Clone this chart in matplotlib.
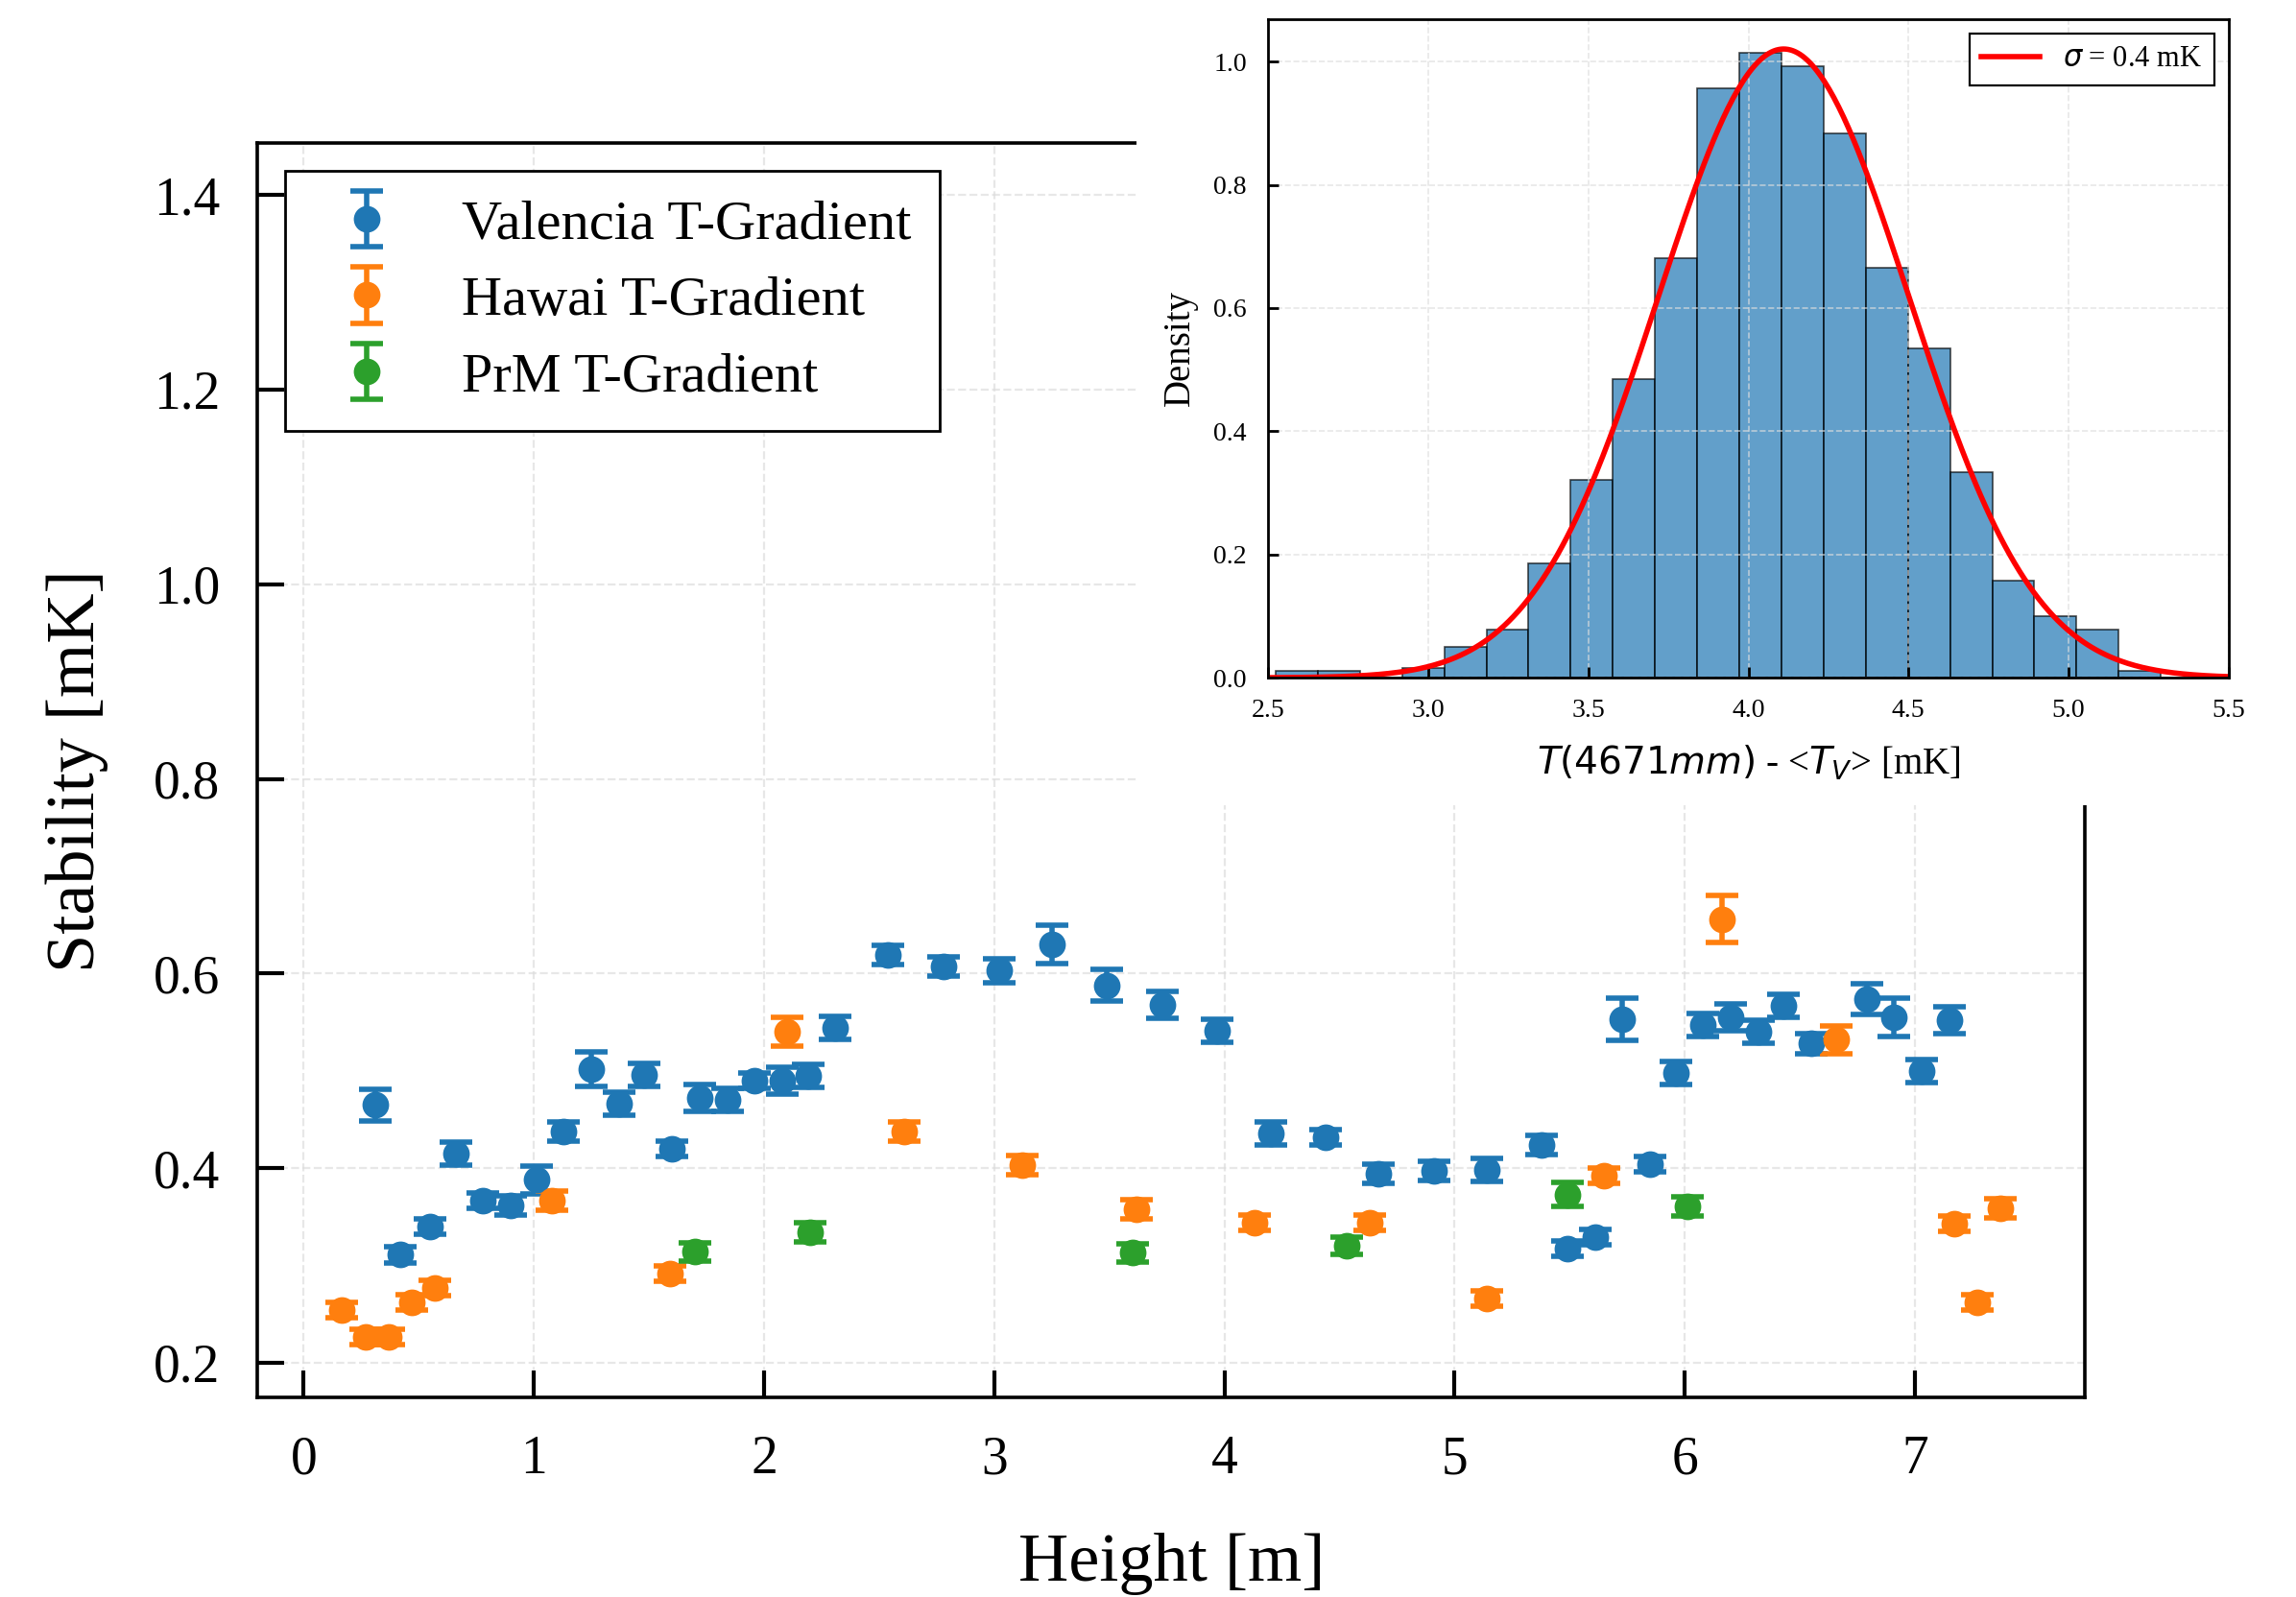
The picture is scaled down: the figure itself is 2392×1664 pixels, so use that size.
import numpy as np
import matplotlib.pyplot as plt
from matplotlib.patches import Rectangle

plt.rcParams['font.family'] = 'serif'
plt.rcParams['font.serif'] = ['Liberation Serif', 'DejaVu Serif']
plt.rcParams['mathtext.fontset'] = 'dejavusans'

# DATA --->
# Valencia T-Gradient
val_h = [0.31, 0.42, 0.55, 0.66, 0.78, 0.90, 1.01, 1.13, 1.25, 1.37, 1.48, 1.60,
         1.72, 1.84, 1.96, 2.08, 2.19, 2.31, 2.54, 2.78, 3.02, 3.25, 3.49, 3.73,
         3.97, 4.20, 4.44, 4.67, 4.91, 5.14, 5.38, 5.49, 5.61, 5.73, 5.85, 5.96,
         6.08, 6.20, 6.32, 6.43, 6.55, 6.79, 6.91, 7.03, 7.15]
val_s = [0.465, 0.311, 0.340, 0.415, 0.367, 0.362, 0.388, 0.438, 0.502, 0.466, 0.496, 0.420,
         0.472, 0.470, 0.490, 0.490, 0.495, 0.544, 0.619, 0.607, 0.603, 0.630, 0.588, 0.568,
         0.541, 0.436, 0.432, 0.394, 0.397, 0.398, 0.424, 0.317, 0.329, 0.553, 0.404, 0.498,
         0.547, 0.555, 0.540, 0.567, 0.528, 0.574, 0.555, 0.500, 0.552]
val_e = [0.016, 0.008, 0.008, 0.012, 0.008, 0.010, 0.014, 0.010, 0.018, 0.012, 0.012, 0.008,
         0.014, 0.012, 0.008, 0.014, 0.012, 0.012, 0.010, 0.010, 0.012, 0.020, 0.016, 0.014,
         0.012, 0.012, 0.008, 0.010, 0.010, 0.012, 0.010, 0.008, 0.008, 0.022, 0.008, 0.012,
         0.012, 0.014, 0.012, 0.012, 0.010, 0.016, 0.020, 0.012, 0.014]

# Hawai T-Gradient
haw_h = [0.165, 0.27, 0.37, 0.47, 0.57, 1.08, 1.59, 2.10, 2.61, 3.12, 3.62, 4.13,
         4.63, 5.14, 5.65, 6.16, 6.66, 7.17, 7.27, 7.37]
haw_s = [0.254, 0.227, 0.227, 0.262, 0.277, 0.367, 0.292, 0.540, 0.438, 0.403, 0.358, 0.344,
         0.344, 0.266, 0.392, 0.656, 0.532, 0.343, 0.262, 0.359]
haw_e = [0.008, 0.008, 0.008, 0.008, 0.008, 0.010, 0.008, 0.015, 0.010, 0.010, 0.010, 0.008,
         0.008, 0.008, 0.008, 0.024, 0.014, 0.008, 0.008, 0.010]

# PrM T-Gradient
prm_h = [1.70, 2.20, 3.60, 4.53, 5.49, 6.01]
prm_s = [0.314, 0.334, 0.313, 0.320, 0.373, 0.361]
prm_e = [0.009, 0.010, 0.009, 0.009, 0.012, 0.010]

# histogram at 4671 mm
bin_edges = [2.523, 2.655, 2.787, 2.918, 3.050, 3.182, 3.313, 3.445, 3.577, 3.708, 3.840,
             3.972, 4.103, 4.235, 4.367, 4.498, 4.630, 4.762, 4.893, 5.025, 5.157, 5.288]
density = [0.011, 0.011, 0.0, 0.016, 0.050, 0.078, 0.185, 0.321, 0.485, 0.681, 0.956,
           1.014, 0.992, 0.884, 0.665, 0.535, 0.333, 0.157, 0.100, 0.078, 0.011]
fit_mu = 4.11
fit_sigma = 0.391
# <--- DATA


fig = plt.figure(figsize=(11.96, 8.32), dpi=200)

# main plot
ax = fig.add_axes([0.1122, 0.1247, 0.796, 0.7855])
eb_kw = dict(fmt='o', markersize=9, capsize=6, capthick=2, elinewidth=2)
ax.errorbar(val_h, val_s, yerr=val_e, color='C0', label='Valencia T-Gradient', **eb_kw)
ax.errorbar(haw_h, haw_s, yerr=haw_e, color='C1', label='Hawai T-Gradient', **eb_kw)
ax.errorbar(prm_h, prm_s, yerr=prm_e, color='C2', label='PrM T-Gradient', **eb_kw)

ax.set_xlim(-0.2, 7.74)
ax.set_ylim(0.164, 1.453)
ax.set_xticks(range(0, 8))
ax.set_yticks([0.2, 0.4, 0.6, 0.8, 1.0, 1.2, 1.4])
ax.tick_params(direction='in', length=10, width=1.5, labelsize=20, pad=14,
               top=False, right=False)
for sp in ax.spines.values():
    sp.set_linewidth(1.3)
ax.grid(True, linestyle='--', color='#dddddd', linewidth=0.8, alpha=0.7)
ax.set_xlabel('Height [m]', fontsize=26, labelpad=18)
ax.set_ylabel('Stability [mK]', fontsize=26, labelpad=17)

leg = ax.legend(loc='upper left', fontsize=21, frameon=True, fancybox=False,
                edgecolor='black', framealpha=1, borderpad=0.5, borderaxespad=0,
                labelspacing=0.46, handletextpad=0.75, handlelength=1.9,
                bbox_to_anchor=(0.0152, 0.978))
leg.get_frame().set_linewidth(1.0)

# white area under the inset
fig.patches.append(Rectangle((0.495, 0.496), 0.505, 0.504, transform=fig.transFigure,
                             facecolor='white', edgecolor='none', zorder=1))

# inset histogram
axin = fig.add_axes([0.5523, 0.5756, 0.4184, 0.4125], zorder=2)
axin.bar(bin_edges[:-1], density, width=np.diff(bin_edges), align='edge',
         color='C0', alpha=0.7, edgecolor='black', linewidth=0.6)
xs = np.linspace(2.5, 5.5, 400)
axin.plot(xs, np.exp(-0.5 * ((xs - fit_mu) / fit_sigma) ** 2) / (fit_sigma * np.sqrt(2 * np.pi)),
          color='red', linewidth=2, label=r'$\sigma$ = 0.4 mK')
axin.set_xlim(2.5, 5.5)
axin.set_ylim(0, 1.069)
axin.set_xticks([2.5, 3.0, 3.5, 4.0, 4.5, 5.0, 5.5])
axin.set_yticks([0.0, 0.2, 0.4, 0.6, 0.8, 1.0])
axin.tick_params(direction='in', length=4, width=1, labelsize=10, pad=8)
axin.grid(True, linestyle='--', color='#dddddd', linewidth=0.6, alpha=0.7)
for sp in axin.spines.values():
    sp.set_linewidth(1.0)
axin.set_xlabel(r'$T(4671mm)$ - <$T_V$> [mK]', fontsize=14, labelpad=8)
axin.set_ylabel('Density', fontsize=14, labelpad=6)
leg2 = axin.legend(loc='upper right', fontsize=11, fancybox=False, edgecolor='black',
                   framealpha=1)
leg2.get_frame().set_linewidth(0.8)

fig.savefig('out.png', dpi=200)
